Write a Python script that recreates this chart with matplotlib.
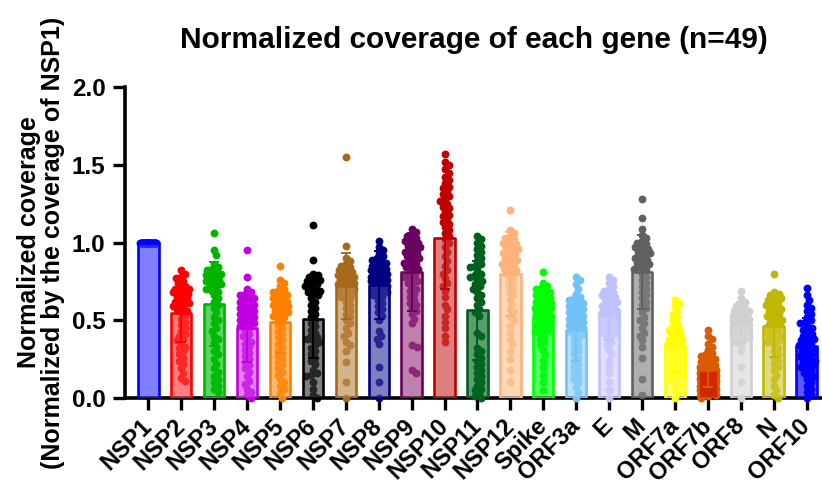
import numpy as np
import matplotlib
matplotlib.use("Agg")
import matplotlib.pyplot as plt
from matplotlib.colors import to_rgb

genes = ["NSP1", "NSP2", "NSP3", "NSP4", "NSP5", "NSP6", "NSP7", "NSP8", "NSP9", "NSP10",
         "NSP11", "NSP12", "Spike", "ORF3a", "E", "M", "ORF7a", "ORF7b", "ORF8", "N", "ORF10"]

means = [1.0, 0.547, 0.607, 0.45, 0.489, 0.51, 0.72, 0.725, 0.81, 1.03,
         0.564, 0.795, 0.532, 0.44, 0.532, 0.81, 0.328, 0.178, 0.485, 0.461, 0.332]
sds = [0.0, 0.19, 0.27, 0.22, 0.20, 0.25, 0.21, 0.22, 0.25, 0.33,
       0.32, 0.27, 0.14, 0.20, 0.16, 0.24, 0.16, 0.11, 0.13, 0.20, 0.18]

nsp1 = [1.0] * 49
nsp2 = [0.82,0.80,0.78,0.77,0.75,0.74,0.72,0.71,0.70,0.70,0.69,0.68,0.68,0.67,0.66,0.65,0.64,0.63,0.62,0.62,0.61,0.60,0.59,0.58,0.57,0.56,0.55,0.53,0.51,0.49,0.47,0.45,0.43,0.41,0.40,0.38,0.37,0.35,0.33,0.32,0.30,0.28,0.26,0.24,0.22,0.19,0.16,0.13,0.11]
nsp3 = [1.06,0.95,0.92,0.86,0.84,0.83,0.82,0.81,0.80,0.80,0.79,0.78,0.77,0.76,0.75,0.74,0.73,0.72,0.71,0.70,0.69,0.68,0.66,0.64,0.62,0.60,0.58,0.55,0.52,0.50,0.48,0.45,0.43,0.40,0.38,0.36,0.33,0.30,0.28,0.25,0.22,0.19,0.17,0.14,0.12,0.10,0.08,0.06,0.04]
nsp4 = [0.95,0.78,0.70,0.68,0.67,0.66,0.65,0.64,0.63,0.62,0.61,0.60,0.59,0.58,0.57,0.56,0.55,0.54,0.53,0.52,0.51,0.50,0.49,0.48,0.47,0.46,0.45,0.43,0.41,0.40,0.38,0.36,0.35,0.33,0.31,0.29,0.27,0.25,0.23,0.21,0.19,0.17,0.14,0.11,0.09,0.06,0.04,0.02,0.0]
nsp5 = [0.85,0.76,0.74,0.72,0.70,0.69,0.68,0.67,0.66,0.65,0.64,0.63,0.62,0.61,0.60,0.60,0.59,0.58,0.57,0.56,0.55,0.54,0.53,0.52,0.51,0.49,0.47,0.45,0.43,0.41,0.39,0.37,0.35,0.33,0.31,0.29,0.27,0.25,0.23,0.21,0.19,0.17,0.15,0.12,0.10,0.08,0.06,0.03,0.0]
nsp6 = [1.11,0.89,0.80,0.79,0.78,0.77,0.76,0.75,0.74,0.73,0.72,0.71,0.70,0.69,0.68,0.67,0.66,0.64,0.62,0.60,0.58,0.56,0.54,0.52,0.50,0.48,0.46,0.44,0.42,0.40,0.39,0.38,0.37,0.36,0.34,0.32,0.30,0.28,0.26,0.24,0.22,0.18,0.16,0.15,0.14,0.10,0.06,0.02,0.0]
nsp7 = [1.55,0.98,0.90,0.88,0.86,0.85,0.84,0.83,0.82,0.81,0.80,0.80,0.79,0.78,0.78,0.77,0.76,0.76,0.75,0.74,0.74,0.73,0.72,0.72,0.71,0.70,0.69,0.68,0.67,0.66,0.65,0.64,0.62,0.60,0.58,0.56,0.54,0.52,0.50,0.48,0.45,0.42,0.40,0.36,0.34,0.30,0.23,0.10,0.0]
nsp8 = [1.01,0.97,0.95,0.93,0.91,0.90,0.89,0.88,0.87,0.86,0.85,0.84,0.83,0.82,0.82,0.81,0.80,0.80,0.79,0.78,0.78,0.77,0.76,0.76,0.75,0.74,0.73,0.72,0.71,0.70,0.69,0.68,0.67,0.66,0.65,0.63,0.61,0.59,0.57,0.55,0.53,0.50,0.43,0.40,0.38,0.35,0.20,0.10,0.0]
nsp9 = [1.09,1.07,1.05,1.04,1.03,1.02,1.01,1.00,0.99,0.98,0.97,0.96,0.95,0.94,0.93,0.92,0.91,0.90,0.89,0.88,0.87,0.86,0.85,0.84,0.83,0.82,0.80,0.79,0.78,0.76,0.75,0.74,0.72,0.70,0.69,0.67,0.65,0.63,0.61,0.60,0.58,0.56,0.54,0.51,0.48,0.34,0.33,0.18,0.16]
nsp10 = [1.57,1.52,1.50,1.47,1.45,1.42,1.40,1.38,1.36,1.35,1.33,1.31,1.30,1.28,1.27,1.25,1.23,1.22,1.20,1.18,1.17,1.15,1.13,1.12,1.10,1.08,1.06,1.04,1.02,1.00,0.97,0.94,0.91,0.88,0.85,0.82,0.80,0.77,0.74,0.72,0.69,0.65,0.60,0.57,0.53,0.49,0.45,0.40,0.36]
nsp11 = [1.04,1.02,1.00,0.98,0.96,0.94,0.92,0.90,0.88,0.86,0.85,0.84,0.82,0.80,0.79,0.78,0.76,0.75,0.73,0.72,0.70,0.68,0.66,0.64,0.62,0.60,0.57,0.55,0.53,0.42,0.40,0.32,0.30,0.28,0.26,0.24,0.22,0.20,0.18,0.16,0.14,0.12,0.10,0.08,0.06,0.05,0.03,0.01,0.0]
nsp12 = [1.21,1.08,1.06,1.04,1.03,1.02,1.01,1.00,0.99,0.98,0.97,0.96,0.95,0.94,0.93,0.92,0.91,0.90,0.89,0.88,0.87,0.86,0.85,0.84,0.83,0.82,0.81,0.80,0.78,0.76,0.74,0.72,0.70,0.68,0.66,0.63,0.60,0.57,0.55,0.52,0.50,0.46,0.42,0.38,0.35,0.30,0.25,0.18,0.10]
spike = [0.81,0.74,0.72,0.71,0.70,0.69,0.68,0.67,0.66,0.65,0.64,0.63,0.62,0.62,0.61,0.60,0.60,0.59,0.58,0.58,0.57,0.56,0.56,0.55,0.54,0.54,0.53,0.52,0.51,0.50,0.49,0.48,0.47,0.46,0.45,0.44,0.43,0.42,0.40,0.38,0.36,0.34,0.31,0.28,0.24,0.20,0.15,0.10,0.05]
orf3a = [0.78,0.76,0.73,0.70,0.67,0.65,0.64,0.63,0.62,0.61,0.60,0.59,0.58,0.57,0.56,0.55,0.54,0.53,0.52,0.51,0.50,0.49,0.48,0.47,0.46,0.45,0.44,0.43,0.42,0.41,0.40,0.38,0.36,0.34,0.32,0.30,0.28,0.26,0.24,0.22,0.20,0.18,0.16,0.14,0.12,0.10,0.07,0.04,0.0]
e_gene = [0.78,0.76,0.74,0.72,0.70,0.69,0.68,0.67,0.66,0.65,0.64,0.63,0.62,0.61,0.60,0.59,0.58,0.57,0.56,0.56,0.55,0.54,0.54,0.53,0.52,0.52,0.51,0.50,0.49,0.48,0.47,0.46,0.45,0.44,0.43,0.42,0.41,0.40,0.38,0.36,0.34,0.31,0.28,0.24,0.20,0.16,0.10,0.05,0.0]
m_gene = [1.28,1.16,1.09,1.05,1.03,1.01,1.00,0.99,0.98,0.97,0.96,0.95,0.94,0.93,0.92,0.91,0.90,0.89,0.88,0.87,0.86,0.85,0.84,0.83,0.82,0.80,0.78,0.76,0.74,0.72,0.70,0.68,0.66,0.64,0.62,0.60,0.58,0.55,0.52,0.50,0.48,0.45,0.42,0.40,0.37,0.33,0.26,0.12,0.02]
orf7a = [0.63,0.61,0.59,0.56,0.54,0.52,0.50,0.48,0.46,0.45,0.44,0.42,0.41,0.40,0.39,0.38,0.37,0.36,0.35,0.34,0.33,0.33,0.32,0.31,0.30,0.30,0.29,0.28,0.27,0.26,0.25,0.24,0.23,0.22,0.21,0.20,0.19,0.18,0.17,0.16,0.15,0.14,0.13,0.12,0.10,0.08,0.06,0.03,0.0]
orf7b = [0.44,0.40,0.38,0.35,0.33,0.31,0.29,0.28,0.27,0.26,0.25,0.24,0.23,0.22,0.21,0.20,0.20,0.19,0.18,0.18,0.17,0.17,0.16,0.16,0.15,0.15,0.14,0.14,0.13,0.13,0.12,0.12,0.11,0.11,0.10,0.10,0.09,0.09,0.08,0.07,0.07,0.06,0.05,0.05,0.04,0.03,0.02,0.01,0.0]
orf8 = [0.69,0.64,0.62,0.60,0.59,0.58,0.57,0.56,0.56,0.55,0.54,0.54,0.53,0.53,0.52,0.52,0.51,0.51,0.50,0.50,0.50,0.49,0.49,0.48,0.48,0.47,0.47,0.46,0.46,0.45,0.45,0.44,0.44,0.43,0.43,0.42,0.42,0.41,0.40,0.40,0.39,0.38,0.37,0.36,0.34,0.30,0.20,0.10,0.0]
n_gene = [0.80,0.68,0.67,0.66,0.65,0.64,0.63,0.62,0.61,0.60,0.59,0.58,0.57,0.56,0.55,0.54,0.53,0.52,0.51,0.50,0.49,0.48,0.47,0.46,0.45,0.44,0.43,0.42,0.41,0.40,0.39,0.38,0.37,0.36,0.34,0.32,0.30,0.28,0.26,0.24,0.22,0.20,0.18,0.15,0.12,0.08,0.05,0.02,0.0]
orf10 = [0.71,0.66,0.63,0.60,0.58,0.56,0.54,0.52,0.50,0.49,0.48,0.46,0.45,0.44,0.42,0.41,0.40,0.39,0.38,0.37,0.36,0.35,0.34,0.33,0.32,0.31,0.30,0.29,0.28,0.27,0.26,0.25,0.24,0.23,0.22,0.21,0.20,0.19,0.18,0.16,0.15,0.14,0.12,0.10,0.08,0.06,0.04,0.02,0.0]

points = [nsp1, nsp2, nsp3, nsp4, nsp5, nsp6, nsp7, nsp8, nsp9, nsp10, nsp11, nsp12,
          spike, orf3a, e_gene, m_gene, orf7a, orf7b, orf8, n_gene, orf10]

edge_colors = ['#0000FF', '#FF0000', '#00B400', '#C000E0', '#FF8000', '#000000', '#A8681A',
               '#000080', '#6A0060', '#C00000', '#005E1E', '#FFB27A', '#00FF00', '#72C2F8',
               '#C0C0FF', '#606060', '#FFFF00', '#D85C00', '#D0D0D0', '#C0B800', '#0000FF']
face_colors = ['#8080FF', '#FF8080', '#1ED760', '#E080F0', '#FFB870', '#808080', '#D4B48A',
               '#8080C0', '#C080B0', '#E08080', '#5A9E6E', '#FFD8B8', '#00FF66', '#B8E0FC',
               '#E0E0FF', '#B0B0B0', '#FFFF80', '#E0620E', '#E6E6E6', '#E0DC80', '#3848FF']

plt.rcParams['font.family'] = ['Liberation Sans', 'DejaVu Sans']
plt.rcParams['font.weight'] = 'bold'

W, H = 822, 484
fig = plt.figure(figsize=(W / 100, H / 100), dpi=100)
ax_left, ax_right, ax_top, ax_bot = 125, 822, 87, 398
ax = fig.add_axes([ax_left / W, 1 - ax_bot / H, (ax_right - ax_left) / W, (ax_bot - ax_top) / H])

x = np.arange(len(genes))
xlim = (-0.71, 20.47)
ylim = (0, 2.0)
ax.set_xlim(*xlim)
ax.set_ylim(*ylim)

px_per_x = (ax_right - ax_left) / (xlim[1] - xlim[0])
px_per_y = (ax_bot - ax_top) / (ylim[1] - ylim[0])


def swarm_offsets(vals, d=5.0, maxoff=8.0, step=0.5):
    vals = np.asarray(vals, dtype=float)
    ys = vals * px_per_y
    order = np.argsort(-ys, kind='stable')
    cands = [0.0]
    k = step
    while k <= maxoff + 1e-9:
        cands += [k, -k]
        k += step
    placed_x, placed_y = [], []
    offs = np.zeros(len(vals))
    for i in order:
        y = ys[i]
        best, bestd = 0.0, -1
        for c in cands:
            if placed_x:
                dist = np.min(np.hypot(np.array(placed_x) - c, np.array(placed_y) - y))
            else:
                dist = 1e9
            if dist >= d:
                best = c
                bestd = dist
                break
            if dist > bestd:
                bestd = dist
                best = c
        offs[i] = best
        placed_x.append(best)
        placed_y.append(y)
    return offs / px_per_x


bar_w = 0.62
alpha_face = 0.65
white = np.array([1.0, 1.0, 1.0])

for i, g in enumerate(genes):
    ec = edge_colors[i]
    fc = np.array(to_rgb(face_colors[i]))
    overlay = np.clip((fc - (1 - alpha_face) * white) / alpha_face, 0, 1)
    vals = np.asarray(points[i])
    offs = swarm_offsets(vals)
    ax.scatter(x[i] + offs, vals, s=32, color=ec, linewidths=0, zorder=2.6, clip_on=False)
    ax.bar(x[i], means[i], width=bar_w, color=overlay, alpha=alpha_face, linewidth=0, zorder=3)
    ax.bar(x[i], means[i], width=bar_w, facecolor='none', edgecolor=ec, linewidth=1.9,
           zorder=3.2, joinstyle='round')
    if sds[i] > 0:
        ax.errorbar(x[i], means[i], yerr=sds[i], fmt='none', ecolor=ec, elinewidth=1.4,
                    capsize=3.8, capthick=1.4, zorder=3.4)

ax.set_title("Normalized coverage of each gene (n=49)", fontsize=21.5, fontweight='bold', pad=28)
ax.set_ylabel("Normalized coverage\n(Normalized by the coverage of NSP1)", fontsize=18,
              fontweight='bold', labelpad=5, linespacing=1.0)

ax.set_yticks([0, 0.5, 1.0, 1.5, 2.0])
ax.set_yticklabels(["0.0", "0.5", "1.0", "1.5", "2.0"], fontsize=17.5, fontweight='bold')
ax.set_xticks(x)
ax.set_xticklabels(genes, rotation=45, ha='right', va='center', rotation_mode='anchor',
                   fontsize=17, fontweight='bold')

for side in ['top', 'right']:
    ax.spines[side].set_visible(False)
for side in ['left', 'bottom']:
    ax.spines[side].set_linewidth(2.6)
    ax.spines[side].set_zorder(2.5)
ax.tick_params(axis='y', length=8.5, width=2.4, pad=5.5)
ax.tick_params(axis='x', length=8.5, width=2.4, pad=9)

fig.savefig("out.png", dpi=100)
